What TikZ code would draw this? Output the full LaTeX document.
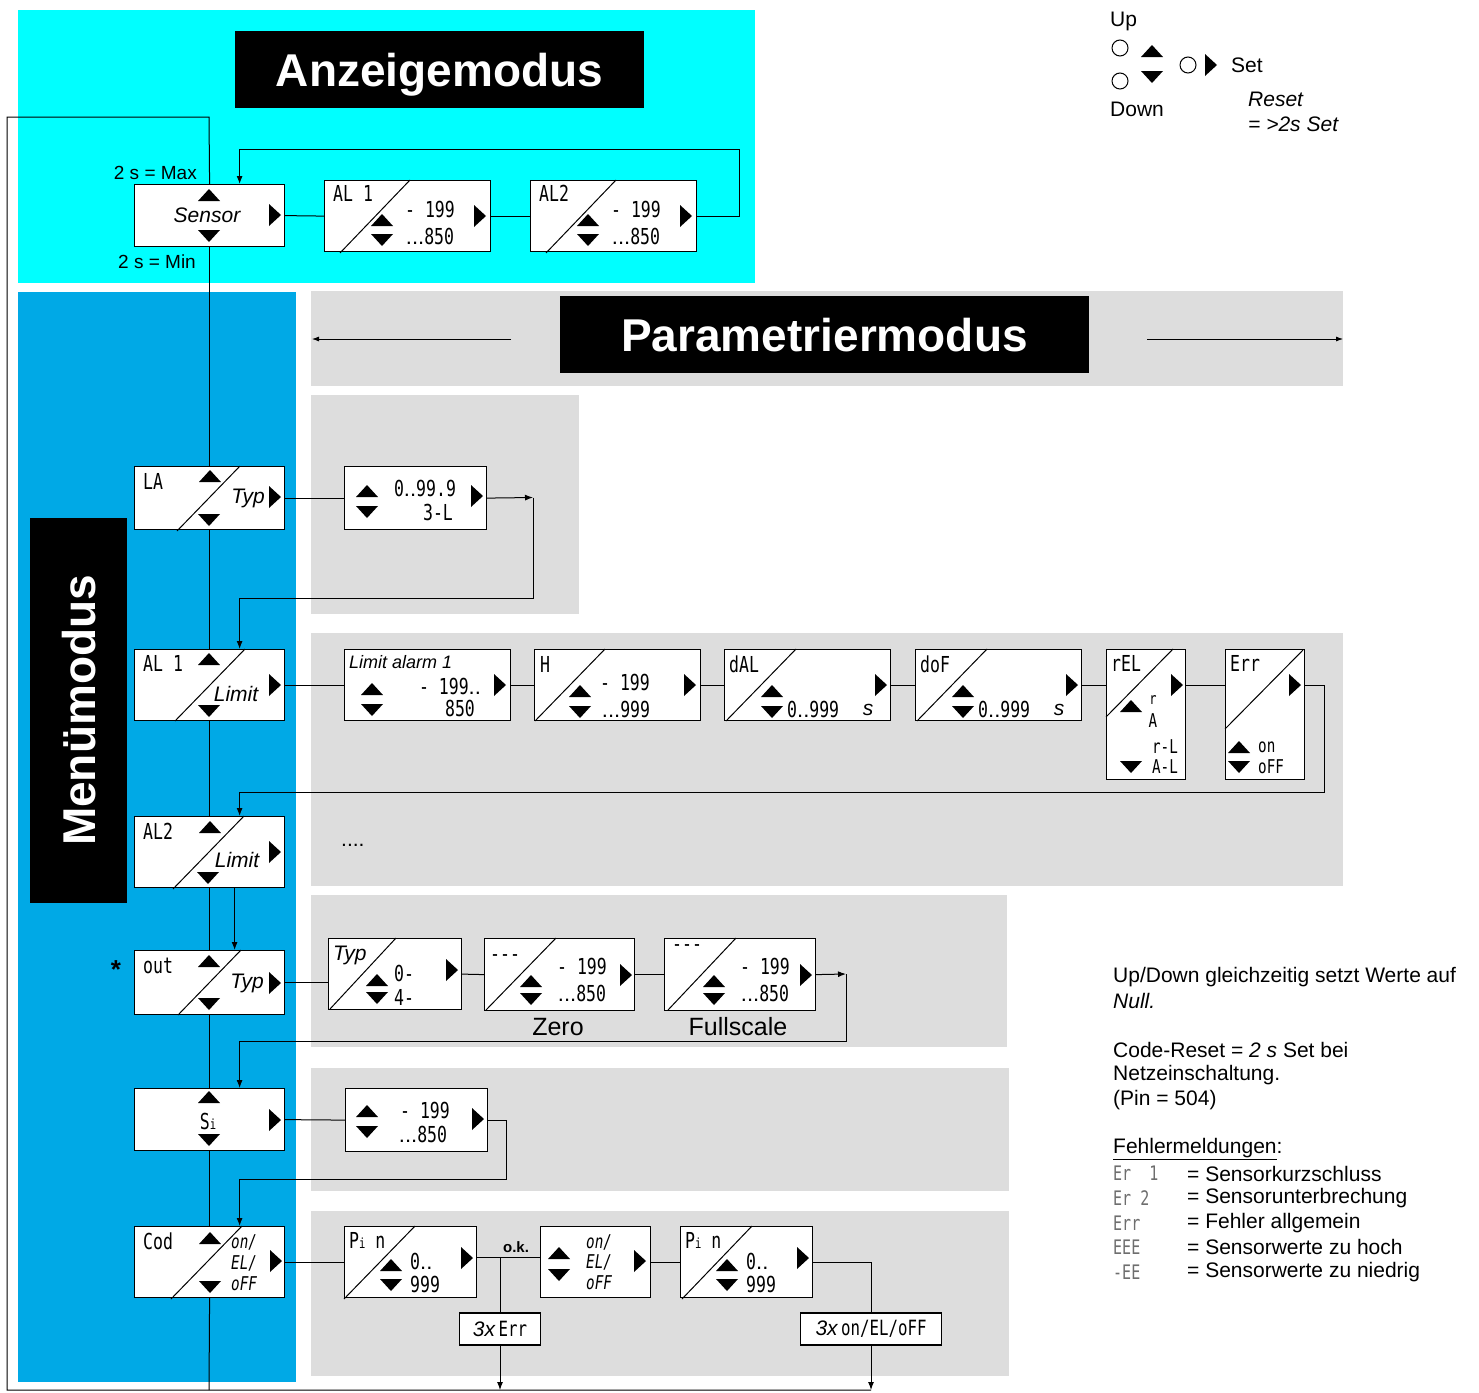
\documentclass[tikz,border=0pt]{standalone}
\usepackage{fontspec}
\setmainfont{Liberation Sans}
\newfontfamily\segfont[FakeStretch=0.75]{DejaVu Sans Mono}
\newcommand{\segdots}{{\rmfamily...}}
\usetikzlibrary{arrows.meta}

\definecolor{anzcyan}{RGB}{0,255,255}
\definecolor{menublue}{RGB}{0,169,230}
\definecolor{parmgray}{RGB}{221,221,221}
\definecolor{codegray}{RGB}{110,110,110}

\tikzset{
  disp/.style={draw, fill=white, line width=1.2pt, inner sep=0pt, anchor=north west},
  cntbox/.style={draw, fill=white, line width=1.2pt, inner sep=0pt, minimum height=32},
  conn/.style={line width=1pt},
  tip/.style={-{Latex[length=8pt,width=6pt]}},
  diag/.style={line width=1pt},
  seg/.style={font=\segfont\fontsize{22}{22}\selectfont, inner sep=0pt},
  tseg/.style={font=\segfont\fontsize{19}{19}\selectfont, inner sep=0pt},
  sseg/.style={font=\segfont\fontsize{19}{19}\selectfont\itshape, inner sep=0pt, anchor=west},
  lbl/.style={font=\fontsize{21}{25}\selectfont, inner sep=0pt},
  ilbl/.style={font=\fontsize{21}{25}\selectfont\itshape, inner sep=0pt},
  modetitle/.style={fill=black, text=white, inner sep=0pt, text depth=0pt,
    font=\fontsize{46}{50}\selectfont\bfseries},
  % key symbols
  uptri/.pic={\fill (-11,6) -- (11,6) -- (0,-6) -- cycle;},
  dntri/.pic={\fill (-11,-6) -- (11,-6) -- (0,6) -- cycle;},
  rttri/.pic={\fill (-6,-11) -- (-6,11) -- (6,0) -- cycle;},
}

\begin{document}
\begin{tikzpicture}[x=1pt, y=-1pt]
  \useasboundingbox (0,0) rectangle (1479,1392);

  % Backgrounds
  \fill[anzcyan] (18,10) rectangle (755,283);
  \fill[menublue] (18,292) rectangle (296,1382);
  \fill[parmgray] (311,291) rectangle (1343,386);
  \fill[parmgray] (311,395) rectangle (579,614);
  \fill[parmgray] (311,633) rectangle (1343,886);
  \fill[parmgray] (311,895) rectangle (1007,1047);
  \fill[parmgray] (311,1068) rectangle (1009,1191);
  \fill[parmgray] (311,1211) rectangle (1009,1376);

  % Titles
  \node[modetitle, minimum width=409, minimum height=77] (anz) at (439.5,69.5) {Anzeigemodus};
  \node[modetitle, minimum width=529, minimum height=77] (parm) at (824.5,334.5) {Parametriermodus};
  \node[modetitle, minimum width=385, minimum height=97, rotate=90] (menu) at (78.5,710.5) {Menümodus};
  \coordinate (parl1) at (511,339);
  \coordinate (parl2) at (312,339);
  \coordinate (parr1) at (1147,339);
  \coordinate (parr2) at (1343,339);
  \draw[line width=0.8pt, -{Latex[length=7pt,width=5pt]}] (parl1) -- (parl2);
  \draw[line width=0.8pt, -{Latex[length=7pt,width=5pt]}] (parr1) -- (parr2);

  % Legend
  \node[lbl, anchor=west] (lup) at (1110,21) {Up};
  \node[lbl, anchor=west] (ldown) at (1110,109) {Down};
  \draw[line width=1pt] (1120,48) circle (8);
  \draw[line width=1pt] (1120,81) circle (8);
  \draw[line width=1pt] (1188,65) circle (8);
  \pic at (1152,51) {uptri};
  \pic at (1152,77) {dntri};
  \pic at (1211,65) {rttri};
  \node[lbl, anchor=west] (lset) at (1231,65) {Set};
  \node[ilbl, anchor=west] (lreset) at (1248,99) {Reset};
  \node[ilbl, anchor=west] (lreset2) at (1248,124) {= >2s Set};

  % Sensor
  \begin{scope}[shift={(134,184)}]
    \node[disp, minimum width=150, minimum height=62] (sensor) at (0,0) {};
    \pic at (75,11) {uptri};
    \pic at (75,52) {dntri};
    \pic at (141,31) {rttri};
    \node[ilbl] at (73,31) {Sensor};
  \end{scope}
  \node[lbl, font=\fontsize{19}{22}\selectfont, anchor=east] (smax) at (197,173) {2 s = Max};
  \node[lbl, font=\fontsize{19}{22}\selectfont, anchor=east] (smin) at (196,262) {2 s = Min};

  % AL1 / AL2 display
  \begin{scope}[shift={(324,180)}]
    \node[disp, minimum width=166, minimum height=71] (al1a) at (0,0) {};
    \draw[diag] (16,73) -- (86,0);
    \node[seg, anchor=west] at (9,13) {AL 1};
    \node[seg] at (106,29) {- 199};
    \node[seg] at (106,56) {\segdots850};
    \pic at (58,40) {uptri};
    \pic at (58,60) {dntri};
    \pic at (156,36) {rttri};
  \end{scope}
  \begin{scope}[shift={(530,180)}]
    \node[disp, minimum width=166, minimum height=71] (al2a) at (0,0) {};
    \draw[diag] (16,73) -- (86,0);
    \node[seg, anchor=west] at (9,13) {AL2};
    \node[seg] at (106,29) {- 199};
    \node[seg] at (106,56) {\segdots850};
    \pic at (58,40) {uptri};
    \pic at (58,60) {dntri};
    \pic at (156,36) {rttri};
  \end{scope}

  % LA
  \begin{scope}[shift={(134,466)}]
    \node[disp, minimum width=150, minimum height=63] (la) at (0,0) {};
    \draw[diag] (43,65) -- (106,0);
    \node[seg, anchor=west] at (9,15) {LA};
    \pic at (76,10) {uptri};
    \pic at (75,54) {dntri};
    \node[ilbl] at (114,32) {Typ};
    \pic at (141,31) {rttri};
  \end{scope}
  \begin{scope}[shift={(344,466)}]
    \node[disp, minimum width=142, minimum height=63] (laval) at (0,0) {};
    \pic at (23,25) {uptri};
    \pic at (23,46) {dntri};
    \node[seg] at (81,22) {0{\rmfamily..}99.9};
    \node[seg] at (94,46) {3-L};
    \pic at (133,30) {rttri};
  \end{scope}

  % AL 1 menu row
  \begin{scope}[shift={(134,649)}]
    \node[disp, minimum width=150, minimum height=71] (al1) at (0,0) {};
    \draw[diag] (41,72) -- (111,0);
    \node[seg, anchor=west] at (9,14) {AL 1};
    \pic at (75,10) {uptri};
    \pic at (75,62) {dntri};
    \node[ilbl] at (102,45) {Limit};
    \pic at (141,36) {rttri};
  \end{scope}
  \begin{scope}[shift={(344,649)}]
    \node[disp, minimum width=166, minimum height=71] (lim1) at (0,0) {};
    \node[ilbl, font=\fontsize{18}{20}\selectfont\itshape, anchor=west] at (5,13) {Limit alarm 1};
    \pic at (28,40) {uptri};
    \pic at (28,61) {dntri};
    \node[seg] at (106,37) {- 199{\rmfamily..}};
    \node[seg] at (116,59) {850};
    \pic at (156,36) {rttri};
  \end{scope}
  \begin{scope}[shift={(534,649)}]
    \node[disp, minimum width=166, minimum height=71] (hyst) at (0,0) {};
    \draw[diag] (1,72) -- (71,0);
    \node[seg, anchor=west] at (6,15) {H};
    \pic at (46,42) {uptri};
    \pic at (46,63) {dntri};
    \node[seg] at (91,33) {- 199};
    \node[seg] at (92,60) {\segdots999};
    \pic at (156,36) {rttri};
  \end{scope}
  \begin{scope}[shift={(724,649)}]
    \node[disp, minimum width=166, minimum height=71] (dal) at (0,0) {};
    \draw[diag] (2,72) -- (72,0);
    \node[seg, anchor=west] at (5,15) {dAL};
    \pic at (48,42) {uptri};
    \pic at (48,63) {dntri};
    \node[seg, anchor=west] at (63,60) {0{\rmfamily..}999};
    \node[ilbl] at (144,61) {s};
    \pic at (157,36) {rttri};
  \end{scope}
  \begin{scope}[shift={(915,649)}]
    \node[disp, minimum width=166, minimum height=71] (dof) at (0,0) {};
    \draw[diag] (2,72) -- (72,0);
    \node[seg, anchor=west] at (5,15) {doF};
    \pic at (48,42) {uptri};
    \pic at (48,63) {dntri};
    \node[seg, anchor=west] at (63,60) {0{\rmfamily..}999};
    \node[ilbl] at (144,61) {s};
    \pic at (157,36) {rttri};
  \end{scope}
  \begin{scope}[shift={(1106,649)}]
    \node[disp, minimum width=79, minimum height=130] (rel) at (0,0) {};
    \draw[diag] (0,68) -- (67,0);
    \node[seg, anchor=west] at (5,14) {rEL};
    \pic at (71,36) {rttri};
    \pic at (25,57) {uptri};
    \node[tseg, font=\segfont\fontsize{16}{16}\selectfont] at (47,51) {r};
    \node[tseg] at (47,72) {A};
    \node[tseg] at (59,98) {r-L};
    \pic at (25,118) {dntri};
    \node[tseg] at (59,118) {A-L};
  \end{scope}
  \begin{scope}[shift={(1225,649)}]
    \node[disp, minimum width=79, minimum height=130] (err) at (0,0) {};
    \draw[diag] (0,80) -- (78,1);
    \node[seg, anchor=west] at (5,14) {Err};
    \pic at (70,36) {rttri};
    \pic at (14,98) {uptri};
    \node[tseg, anchor=west] at (33,98) {on};
    \pic at (14,118) {dntri};
    \node[tseg, anchor=west] at (33,118) {oFF};
  \end{scope}

  % AL2 menu row
  \begin{scope}[shift={(134,816)}]
    \node[disp, minimum width=150, minimum height=71] (al2) at (0,0) {};
    \draw[diag] (39,73) -- (110,0);
    \node[seg, anchor=west] at (9,15) {AL2};
    \pic at (76,11) {uptri};
    \pic at (74,62) {dntri};
    \node[ilbl] at (103,44) {Limit};
    \pic at (141,36) {rttri};
  \end{scope}
  \node[lbl, anchor=west] (more) at (341,845) {....};

  % out
  \begin{scope}[shift={(134,950)}]
    \node[disp, minimum width=150, minimum height=64] (out) at (0,0) {};
    \draw[diag] (44,65) -- (107,0);
    \node[seg, anchor=west] at (9,16) {out};
    \pic at (75,11) {uptri};
    \pic at (75,54) {dntri};
    \node[ilbl] at (113,33) {Typ};
    \pic at (141,33) {rttri};
  \end{scope}
  \node[font=\fontsize{26}{26}\selectfont\bfseries, inner sep=0pt] (star) at (116,970) {*};
  \begin{scope}[shift={(328,938)}]
    \node[disp, minimum width=133, minimum height=71] (otyp) at (0,0) {};
    \draw[diag] (2,71) -- (68,0);
    \node[ilbl, anchor=west] at (5,17) {Typ};
    \pic at (49,42) {uptri};
    \pic at (49,60) {dntri};
    \node[seg, anchor=west] at (66,35) {0-};
    \node[seg, anchor=west] at (66,59) {4-};
    \pic at (124,32) {rttri};
  \end{scope}
  \begin{scope}[shift={(484,938)}]
    \node[disp, minimum width=150, minimum height=72] (zero) at (0,0) {};
    \draw[diag] (2,72) -- (72,0);
    \node[seg, anchor=west] at (6,20) {---};
    \pic at (47,43) {uptri};
    \pic at (47,61) {dntri};
    \node[seg] at (98,28) {- 199};
    \node[seg] at (98,55) {\segdots850};
    \pic at (142,37) {rttri};
  \end{scope}
  \begin{scope}[shift={(664,938)}]
    \node[disp, minimum width=151, minimum height=72] (full) at (0,0) {};
    \draw[diag] (4,72) -- (72,0);
    \node[seg, anchor=west] at (8,10) {---};
    \pic at (50,43) {uptri};
    \pic at (50,61) {dntri};
    \node[seg] at (101,28) {- 199};
    \node[seg] at (101,55) {\segdots850};
    \pic at (142,37) {rttri};
  \end{scope}
  \node[lbl, font=\fontsize{25}{28}\selectfont] (zerolbl) at (558,1027) {Zero};
  \node[lbl, font=\fontsize{25}{28}\selectfont] (fulllbl) at (738,1027) {Fullscale};

  % Si
  \begin{scope}[shift={(134,1088)}]
    \node[disp, minimum width=150, minimum height=62] (si) at (0,0) {};
    \pic at (75,9) {uptri};
    \pic at (75,52) {dntri};
    \node[seg] at (74,33) {S{\fontsize{14}{14}\selectfont i}};
    \pic at (141,32) {rttri};
  \end{scope}
  \begin{scope}[shift={(345,1088)}]
    \node[disp, minimum width=142, minimum height=63] (sival) at (0,0) {};
    \pic at (22,23) {uptri};
    \pic at (22,44) {dntri};
    \node[seg] at (80,22) {- 199};
    \node[seg] at (78,46) {\segdots850};
    \pic at (133,31) {rttri};
  \end{scope}

  % Cod
  \begin{scope}[shift={(134,1226)}]
    \node[disp, minimum width=150, minimum height=71] (cod) at (0,0) {};
    \draw[diag] (37,73) -- (108,0);
    \node[seg, anchor=west] at (9,15) {Cod};
    \pic at (76,12) {uptri};
    \pic at (76,61) {dntri};
    \node[sseg] at (97,16) {on/};
    \node[sseg] at (97,37) {EL/};
    \node[sseg] at (97,58) {oFF};
    \pic at (142,35) {rttri};
  \end{scope}
  \begin{scope}[shift={(344,1226)}]
    \node[disp, minimum width=132, minimum height=71] (pin1) at (0,0) {};
    \draw[diag] (0,73) -- (71,0);
    \node[seg, anchor=west] at (5,14) {P{\fontsize{14}{14}\selectfont i} n};
    \pic at (47,39) {uptri};
    \pic at (47,59) {dntri};
    \node[seg, anchor=west] at (66,35) {0{\rmfamily..}};
    \node[seg, anchor=west] at (66,58) {999};
    \pic at (123,32) {rttri};
  \end{scope}
  \node[font=\fontsize{15}{15}\selectfont\bfseries, inner sep=0pt] (ok) at (516,1247) {o.k.};
  \begin{scope}[shift={(540,1226)}]
    \node[disp, minimum width=110, minimum height=71] (oel) at (0,0) {};
    \pic at (19,27) {uptri};
    \pic at (19,49) {dntri};
    \node[sseg] at (46,16) {on/};
    \node[sseg] at (46,36) {EL/};
    \node[sseg] at (46,57) {oFF};
    \pic at (100,35) {rttri};
  \end{scope}
  \begin{scope}[shift={(680,1226)}]
    \node[disp, minimum width=132, minimum height=71] (pin2) at (0,0) {};
    \draw[diag] (2,73) -- (72,0);
    \node[seg, anchor=west] at (5,14) {P{\fontsize{14}{14}\selectfont i} n};
    \pic at (47,39) {uptri};
    \pic at (47,59) {dntri};
    \node[seg, anchor=west] at (66,35) {0{\rmfamily..}};
    \node[seg, anchor=west] at (66,58) {999};
    \pic at (123,32) {rttri};
  \end{scope}
  \node[cntbox, minimum width=81] (errx) at (500,1329)
    {\fontsize{21}{21}\selectfont\itshape 3x\,\upshape\segfont Err};
  \node[cntbox, minimum width=141] (oelx) at (871,1329)
    {\fontsize{21}{21}\selectfont\itshape 3x\,\upshape\segfont on/EL/oFF};

  % Connectors
  \coordinate (ltop) at (209,117);
  \coordinate (lcorn1) at (7,117);
  \coordinate (lcorn2) at (7,1390);
  \coordinate (lbot) at (209,1390);
  \coordinate (errdn) at (500,1390);
  \coordinate (oeldn) at (871,1390);
  \draw[conn] (sensor.north) -- (ltop) -- (lcorn1) -- (lcorn2) -- (oeldn);
  \draw[conn] (cod.south) -- (lbot);
  \foreach \a/\b in {sensor/la, la/al1, al1/al2, al2/out, out/si, si/cod}
    \draw[conn] (\a.south) -- (\b.north);

  \coordinate (topret) at (739,149);
  \draw[conn] (sensor.east) -- (al1a.west);
  \draw[conn] (al1a.east) -- (al2a.west);
  \draw[conn, tip] (al2a.east) -| (topret) -| ([xshift=30]sensor.north);

  \coordinate (laend) at (533,497.5);
  \coordinate (laret) at (533,598);
  \draw[conn] (la.east) -- (laval.west);
  \draw[conn, tip] (laval.east) -- (laend);
  \draw[conn, tip] (laend) -- (laret) -| ([xshift=30]al1.north);

  \coordinate (errret) at (1324,792);
  \foreach \a/\b in {al1/lim1, lim1/hyst, hyst/dal, dal/dof}
    \draw[conn] (\a.east) -- (\b.west);
  \draw[conn] (dof.east) -- (dof.east -| rel.west);
  \draw[conn] (rel.east |- dof.east) -- (err.west |- dof.east);
  \draw[conn, tip] (err.east |- dof.east) -| (errret) -| ([xshift=30]al2.north);

  \draw[conn, tip] ([xshift=25]al2.south) -- ([xshift=25]out.north);

  \coordinate (fullend) at (846,974);
  \coordinate (fullret) at (846,1041);
  \draw[conn] (out.east) -- (out.east -| otyp.west);
  \draw[conn] (otyp.east) -- (zero.west);
  \draw[conn] (zero.east) -- (full.west);
  \draw[conn, tip] (full.east) -- (fullend);
  \draw[conn, tip] (fullend) -- (fullret) -| ([xshift=30]si.north);

  \coordinate (siret) at (506,1179);
  \draw[conn] (si.east) -- (sival.west);
  \draw[conn, tip] (sival.east) -| (siret) -| ([xshift=30]cod.north);

  \coordinate (okjoin) at (500,1257);
  \draw[conn] (cod.east) -- (pin1.west);
  \draw[conn] (pin1.east |- okjoin) -- (okjoin -| oel.west);
  \draw[conn] (okjoin) -- (errx.north);
  \draw[conn] (oel.east) -- (pin2.west);
  \draw[conn] (pin2.east) -| (oelx.north);
  \draw[conn, tip] (errx.south) -- (errdn);
  \draw[conn, tip] (oelx.south) -- (oeldn);

  % Notes
  \node[lbl, anchor=west] (n1) at (1113,977) {Up/Down gleichzeitig setzt Werte auf};
  \node[ilbl, anchor=west] (n2) at (1113,1001) {Null.};
  \node[lbl, anchor=west] (n3) at (1113,1050) {Code-Reset = {\itshape 2 s} Set bei};
  \node[lbl, anchor=west] (n4) at (1113,1075) {Netzeinschaltung.};
  \node[lbl, anchor=west] (n5) at (1113,1100) {(Pin = 504)};
  \node[lbl, anchor=west] (fm) at (1113,1149) {\underline{Fehlermeldungen}:};
  \foreach \code/\txt [count=\k] in {Er\ \ 1/Sensorkurzschluss, Er\ 2/Sensorunterbrechung,
      Err/Fehler allgemein, EEE/Sensorwerte zu hoch, -EE/Sensorwerte zu niedrig} {
    \node[seg, text=codegray, anchor=west, font=\segfont\fontsize{20}{20}\selectfont]
      at (1113,1149+24.6*\k) {\code};
    \node[lbl, anchor=west] at (1187,1149+24.6*\k) {= \txt};
  }
\end{tikzpicture}
\end{document}
